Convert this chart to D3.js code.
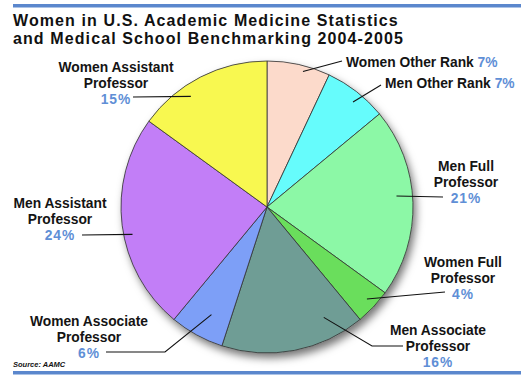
<!DOCTYPE html>
<html lang="en">
<head>
    <meta charset="UTF-8">
    <title>Women in U.S. Academic Medicine</title>
    <script src="https://d3js.org/d3.v7.min.js"></script>
    <style>
        body { margin: 0; background: #fff; }
        svg { display: block; font-family: "Liberation Sans", Arial, sans-serif; }
        .lbl { font-weight: bold; fill: #141414; font-size: 13.8px; }
        .pct { fill: #5f8fd6; }
    </style>
</head>
<body>
<svg width="523" height="380"></svg>
<script>
    // chart data, clockwise from 12 o'clock
    const categories = [
        "Women Other Rank", "Men Other Rank", "Men Full Professor", "Women Full Professor",
        "Men Associate Professor", "Women Associate Professor", "Men Assistant Professor", "Women Assistant Professor"
    ];
    const values = [7, 7, 21, 4, 16, 6, 24, 15];
    const colors = ["#fcdacb", "#66fcfc", "#8cf8a6", "#6ade5c", "#6f9d95", "#7d9ff7", "#c27ef7", "#f8f850"];
    const titleLines = ["Women in U.S. Academic Medicine Statistics", "and Medical School Benchmarking 2004-2005"];
    const source = "Source: AAMC";

    // label layout: text lines, anchor, leader start (t along slice, fraction of radius) and leader points
    const labelLayout = [
        { lines: ["Women Other Rank"], inline: true, x: 346, y: 67, anchor: "start", t: 0.59, rf: 0.96, pts: [[342, 61]] },
        { lines: ["Men Other Rank"], inline: true, x: 385, y: 88, anchor: "start", t: 0.56, rf: 0.93, pts: [[381, 85]] },
        { lines: ["Men Full", "Professor"], x: 466, y: 171, anchor: "middle", t: 0.46, rf: 0.89, pts: [[443, 197]] },
        { lines: ["Women Full", "Professor"], x: 463, y: 267, anchor: "middle", t: 0.46, rf: 0.93, pts: [[445, 292]] },
        { lines: ["Men Associate", "Professor"], x: 438, y: 335, anchor: "middle", t: 0.215, rf: 0.85, pts: [[372, 346], [403, 346]] },
        { lines: ["Women Associate", "Professor"], x: 89, y: 326, anchor: "middle", t: 0.43, rf: 0.83, pts: [[165, 352], [106, 352]] },
        { lines: ["Men Assistant", "Professor"], x: 60, y: 208, anchor: "middle", t: 0.45, rf: 0.94, pts: [[82, 235]] },
        { lines: ["Women Assistant", "Professor"], x: 116, y: 72, anchor: "middle", t: 0.36, rf: 0.92, pts: [[133, 97]] }
    ];

    const svg = d3.select("svg");
    const cx = 267, cy = 207, radius = 146;
    const lineH = 16;

    // shadow filter
    const defs = svg.append("defs");
    const f = defs.append("filter").attr("id", "shadow")
        .attr("x", "-20%").attr("y", "-20%").attr("width", "140%").attr("height", "140%");
    f.append("feDropShadow").attr("dx", 3).attr("dy", 5).attr("stdDeviation", 4)
        .attr("flood-color", "#000").attr("flood-opacity", 0.55);

    // blue rules
    svg.append("rect").attr("x", 13).attr("y", 4).attr("width", 508).attr("height", 3.5).attr("fill", "#5b87cd");
    svg.append("rect").attr("x", 13).attr("y", 371).attr("width", 508).attr("height", 3.5).attr("fill", "#5b87cd");

    // title
    svg.append("text")
        .attr("x", 13).attr("y", 26)
        .attr("font-weight", "bold").attr("font-size", "16px").attr("letter-spacing", "1.1px").attr("fill", "#111")
        .selectAll("tspan").data(titleLines).enter().append("tspan")
        .attr("x", 13).attr("dy", (d, i) => i === 0 ? 0 : 18)
        .text(d => d);

    svg.append("text")
        .attr("x", 13).attr("y", 367)
        .attr("font-weight", "bold").attr("font-style", "italic").attr("font-size", "7.5px").attr("fill", "#111")
        .text(source);

    const pie = d3.pie().sort(null).value(d => d);
    const arcs = pie(values);
    const arc = d3.arc().innerRadius(0).outerRadius(radius);

    const g = svg.append("g").attr("transform", `translate(${cx},${cy})`);

    g.append("circle").attr("r", radius).attr("fill", "#888").attr("filter", "url(#shadow)");

    g.selectAll("path.slice")
        .data(arcs)
        .enter()
        .append("path")
        .attr("class", "slice")
        .attr("d", arc)
        .attr("fill", (d, i) => colors[i])
        .attr("stroke", "#333")
        .attr("stroke-width", 0.8)
        .attr("stroke-linejoin", "round");

    // leader lines and labels
    const line = d3.line();
    labelLayout.forEach(function (L, i) {
        const a = arcs[i].startAngle + L.t * (arcs[i].endAngle - arcs[i].startAngle);
        const r = L.rf * radius;
        const start = [cx + r * Math.sin(a), cy - r * Math.cos(a)];
        svg.append("path")
            .attr("d", line([start].concat(L.pts)))
            .attr("fill", "none")
            .attr("stroke", "#111")
            .attr("stroke-width", 1.1);

        const txt = svg.append("text")
            .attr("class", "lbl")
            .attr("text-anchor", L.anchor)
            .attr("x", L.x).attr("y", L.y);
        if (L.inline) {
            txt.append("tspan").text(L.lines[0] + " ");
            txt.append("tspan").attr("class", "pct").text(values[i] + "%");
        } else {
            L.lines.forEach(function (s, j) {
                txt.append("tspan").attr("x", L.x).attr("dy", j === 0 ? 0 : lineH).text(s);
            });
            txt.append("tspan").attr("class", "pct").attr("x", L.x).attr("dy", lineH)
                .attr("letter-spacing", "1px").text(values[i] + "%");
        }
    });
</script>
</body>
</html>
